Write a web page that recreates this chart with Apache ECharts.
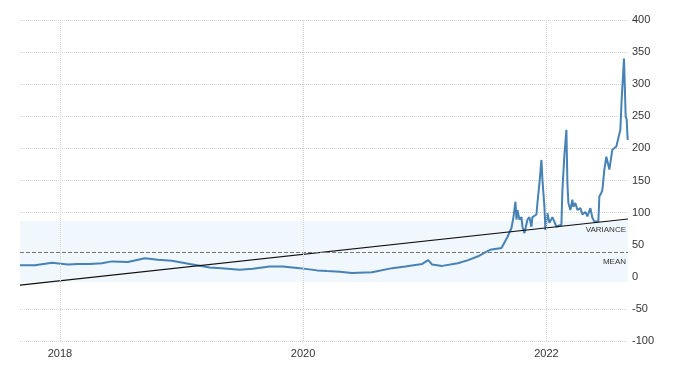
<!DOCTYPE html>
<html>
<head>
<meta charset="utf-8">
<script src="https://cdn.jsdelivr.net/npm/echarts@6/dist/echarts.min.js"></script>
<style>
  html, body { margin: 0; padding: 0; background: #fff; }
  #chart { width: 686px; height: 376px; }
</style>
</head>
<body>
<div id="chart"></div>
<script>
  // price series
  var dates = [
    '2017-09-03', '2017-10-18', '2017-12-08', '2018-01-25', '2018-02-24', '2018-04-01',
    '2018-05-07', '2018-06-06', '2018-07-24', '2018-09-13', '2018-10-22', '2018-12-03',
    '2019-01-26', '2019-03-27', '2019-05-11', '2019-06-25', '2019-08-03', '2019-09-23',
    '2019-11-01', '2019-12-22', '2020-02-12', '2020-03-13', '2020-04-21', '2020-05-27',
    '2020-07-26', '2020-09-25', '2020-11-03', '2020-12-24', '2021-01-11', '2021-01-23',
    '2021-02-22', '2021-04-10', '2021-05-11', '2021-06-10', '2021-07-01', '2021-07-16',
    '2021-08-19', '2021-09-06', '2021-09-18', '2021-09-24', '2021-09-30', '2021-10-03',
    '2021-10-06', '2021-10-12', '2021-10-18', '2021-10-21', '2021-10-27', '2021-11-05',
    '2021-11-11', '2021-11-17', '2021-11-20', '2021-11-26', '2021-12-02', '2021-12-05',
    '2021-12-11', '2021-12-17', '2021-12-20', '2021-12-26', '2021-12-29', '2022-01-04',
    '2022-01-10', '2022-01-19', '2022-01-31', '2022-02-15', '2022-02-18', '2022-02-24',
    '2022-03-02', '2022-03-05', '2022-03-08', '2022-03-14', '2022-03-20', '2022-03-23',
    '2022-03-29', '2022-04-04', '2022-04-13', '2022-04-19', '2022-04-28', '2022-05-04',
    '2022-05-13', '2022-05-19', '2022-05-25', '2022-05-31', '2022-06-06', '2022-06-09',
    '2022-06-15', '2022-06-18', '2022-06-24', '2022-06-30', '2022-07-09', '2022-07-18',
    '2022-07-30', '2022-08-11', '2022-08-15', '2022-08-22', '2022-08-27', '2022-08-30',
    '2022-09-02'
  ]
  var prices = [
    18, 18, 22, 19, 20, 20,
    21, 24, 23, 29, 26.5, 25,
    20, 14.5, 13, 11, 12.5, 16,
    16, 13.5, 10, 9, 8, 6,
    7, 13.5, 16, 20, 26, 19,
    17, 21, 26, 32, 38, 42,
    45, 62, 76, 93, 117, 89,
    104, 89, 93, 78, 68, 89,
    93, 78, 93, 92, 97, 115,
    146, 182, 151, 109, 73, 99,
    84, 93, 78, 81, 135, 190,
    229, 146, 115, 104, 120, 109,
    115, 104, 107, 97, 101, 94,
    107, 92, 86, 89, 86, 125,
    131, 135, 167, 187, 167, 198,
    203, 229, 276, 340, 250, 245,
    213
  ]
  var trendDates = ['2017-09-03', '2022-09-03']
  var trendValues = [-13, 90]
  var meanValue = 39
  var bandLow = -8
  var bandHigh = 87
  var yearTicks = ['2018-01-01', '2020-01-01', '2022-01-01']
  var yTicks = [-100, -50, 0, 50, 100, 150, 200, 250, 300, 350, 400]

  var myCharts = echarts.init(document.getElementById('chart'))
  var basicOption = {
    animation: false,
    textStyle: {
      fontFamily: 'Liberation Sans'
    },
    grid: {
      left: 20,
      right: 58,
      top: 20,
      bottom: 35
    },
    xAxis: {
      type: 'time',
      min: '2017-09-03',
      max: '2022-09-03',
      axisLine: { show: false },
      axisTick: { show: false },
      axisLabel: { show: false },
      splitLine: { show: false }
    },
    yAxis: {
      type: 'value',
      position: 'right',
      min: yTicks[0],
      max: yTicks[yTicks.length - 1],
      interval: 50,
      axisLine: { show: false },
      axisTick: { show: false },
      axisLabel: {
        color: '#333',
        fontSize: 11,
        margin: 4
      },
      splitLine: {
        show: true,
        lineStyle: {
          color: '#d4d4d4',
          type: 'dotted'
        }
      }
    },
    series: [
      {
        name: 'price',
        type: 'line',
        data: dates.map(function (d, i) { return [d, prices[i]] }),
        showSymbol: false,
        z: 3,
        lineStyle: {
          color: '#4682b4',
          width: 2
        },
        itemStyle: { color: '#4682b4' },
        markArea: {
          silent: true,
          itemStyle: { color: '#f0f7fd' },
          data: [[{ yAxis: bandLow }, { yAxis: bandHigh }]]
        },
        markLine: {
          silent: true,
          symbol: 'none',
          data: [
            {
              yAxis: meanValue,
              lineStyle: { color: '#777', type: 'dashed', width: 1 },
              label: {
                show: true,
                position: 'insideEndBottom',
                formatter: 'MEAN',
                color: '#333',
                fontSize: 8,
                distance: [2, 6]
              }
            }
          ].concat(yearTicks.map(function (d) {
            return {
              xAxis: d,
              lineStyle: { color: '#d4d4d4', type: 'dotted', width: 1 },
              label: {
                show: true,
                position: 'start',
                formatter: d.slice(0, 4),
                color: '#333',
                fontSize: 11,
                distance: 7
              }
            }
          }))
        }
      },
      {
        name: 'trend',
        type: 'line',
        data: trendDates.map(function (d, i) { return [d, trendValues[i]] }),
        showSymbol: false,
        z: 4,
        lineStyle: {
          color: '#111',
          width: 1.2
        },
        markLine: {
          silent: true,
          symbol: 'none',
          data: [
            {
              yAxis: bandHigh,
              lineStyle: { color: 'rgba(0,0,0,0)', width: 1 },
              label: {
                show: true,
                position: 'insideEndBottom',
                formatter: 'VARIANCE',
                color: '#333',
                fontSize: 8,
                distance: [2, 5]
              }
            }
          ]
        }
      }
    ]
  }
  myCharts.setOption(basicOption)
</script>
</body>
</html>
